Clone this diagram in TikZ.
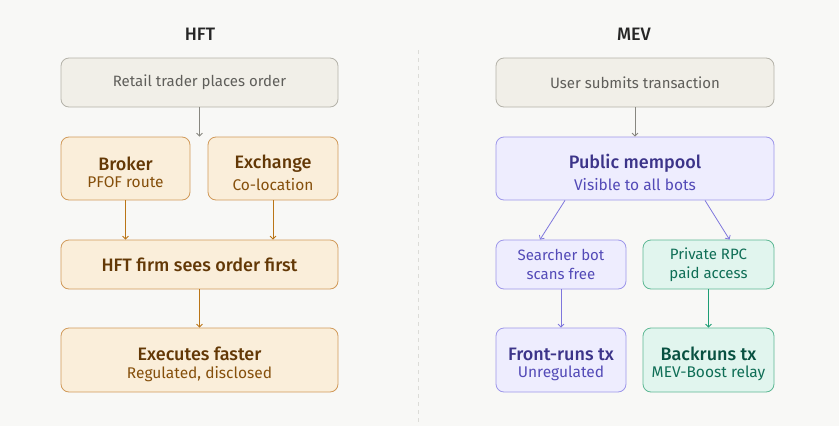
\documentclass[tikz,border=0pt]{standalone}
\usepackage{fontspec}
\setmainfont{Fira Sans}[BoldFont={Fira Sans Medium}]
\usetikzlibrary{arrows.meta}

\definecolor{bgpaper}{HTML}{F8F8F6}
\definecolor{grayfill}{HTML}{F1EFE8}
\definecolor{grayline}{HTML}{B4B2A9}
\definecolor{graytext}{HTML}{5F5E5A}
\definecolor{grayarrow}{HTML}{888780}
\definecolor{orgfill}{HTML}{FAEEDA}
\definecolor{orgline}{HTML}{D19A5A}
\definecolor{orgtext}{HTML}{633806}
\definecolor{orgsub}{HTML}{854F0B}
\definecolor{orgarrow}{HTML}{BA7517}
\definecolor{purfill}{HTML}{EEEDFE}
\definecolor{purline}{HTML}{9E97EA}
\definecolor{purtext}{HTML}{3C3489}
\definecolor{pursub}{HTML}{534AB7}
\definecolor{purarrow}{HTML}{7F77DD}
\definecolor{grnfill}{HTML}{E1F5EE}
\definecolor{grnline}{HTML}{5DB894}
\definecolor{grntext}{HTML}{085041}
\definecolor{grnsub}{HTML}{0F6E56}
\definecolor{grnarrow}{HTML}{1D9E75}
\definecolor{divider}{HTML}{DCDCD8}

\newcommand{\boxtwo}[2]{{\fontsize{18}{21}\selectfont\bfseries\rule{0pt}{22pt}#1}\\[5pt]{\fontsize{15.5}{18}\selectfont #2}}

\tikzset{
  card/.style={rounded corners=8pt, line width=0.8pt, align=center, inner sep=0pt},
  graycard/.style={card, fill=grayfill, draw=grayline, text=graytext, font=\fontsize{15}{18}\selectfont},
  orgcard/.style={card, fill=orgfill, draw=orgline, text=orgtext},
  purcard/.style={card, fill=purfill, draw=purline, text=purtext},
  grncard/.style={card, fill=grnfill, draw=grnline, text=grntext},
  flow/.style={line width=0.8pt, -{Straight Barb[length=3pt,width=6pt]}},
  coltitle/.style={font=\fontsize{18}{21}\selectfont\bfseries, text=black!85}
}

\begin{document}
\begin{tikzpicture}[x=1pt,y=-1pt]
  \fill[bgpaper] (0,0) rectangle (839,426);
  \useasboundingbox (0,0) rectangle (839,426);
  \draw[divider, line width=0.8pt, dash pattern=on 4pt off 4pt] (418,50) -- (418,426);

  % HFT side
  \node[coltitle] (hfttitle) at (200,34) {HFT};
  \node[graycard, minimum width=277pt, minimum height=49pt] (retail) at (199.5,82.5) {Retail trader places order};
  \node[orgcard, minimum width=129pt, minimum height=63pt] (broker) at (125.5,168.5)
    {\boxtwo{Broker}{\color{orgsub}PFOF route}};
  \node[orgcard, minimum width=130pt, minimum height=63pt] (exchange) at (273,168.5)
    {\boxtwo{Exchange}{\color{orgsub}Co-location}};
  \node[orgcard, minimum width=277pt, minimum height=49pt, font=\fontsize{18}{21}\selectfont\bfseries] (firm) at (199.5,264.5)
    {HFT firm sees order first};
  \node[orgcard, minimum width=277pt, minimum height=64pt] (exec) at (199.5,360)
    {\boxtwo{Executes faster}{\color{orgsub}Regulated, disclosed}};

  \draw[flow, grayarrow] (retail.south) -- (retail.south |- broker.north);
  \draw[flow, orgarrow] (broker.south) -- (broker.south |- firm.north);
  \draw[flow, orgarrow] (exchange.south) -- (exchange.south |- firm.north);
  \draw[flow, orgarrow] (firm) -- (exec);

  % MEV side
  \node[coltitle] (mevtitle) at (634,34) {MEV};
  \node[graycard, minimum width=278pt, minimum height=49pt] (user) at (635,82.5) {User submits transaction};
  \node[purcard, minimum width=278pt, minimum height=63pt] (mempool) at (635,168.5)
    {\boxtwo{Public mempool}{\color{pursub}Visible to all bots}};
  \node[purcard, minimum width=130pt, minimum height=49pt, text=pursub, font=\fontsize{15}{19}\selectfont] (searcher) at (561,264.5)
    {Searcher bot\\scans free};
  \node[grncard, minimum width=131pt, minimum height=49pt, text=grnsub, font=\fontsize{15}{19}\selectfont] (rpc) at (708.5,264.5)
    {Private RPC\\paid access};
  \node[purcard, minimum width=130pt, minimum height=64pt] (front) at (561,360)
    {\boxtwo{Front-runs tx}{\color{pursub}Unregulated}};
  \node[grncard, minimum width=131pt, minimum height=64pt] (back) at (708.5,360)
    {\boxtwo{Backruns tx}{\color{grnsub}MEV-Boost relay}};

  \draw[flow, grayarrow] (user) -- (mempool);
  \draw[flow, purarrow] ([xshift=-70pt]mempool.south) -- ([xshift=-21pt]searcher.north);
  \draw[flow, purarrow] ([xshift=70pt]mempool.south) -- ([xshift=21pt]rpc.north);
  \draw[flow, purarrow] (searcher) -- (front);
  \draw[flow, grnarrow] (rpc) -- (back);
\end{tikzpicture}
\end{document}
